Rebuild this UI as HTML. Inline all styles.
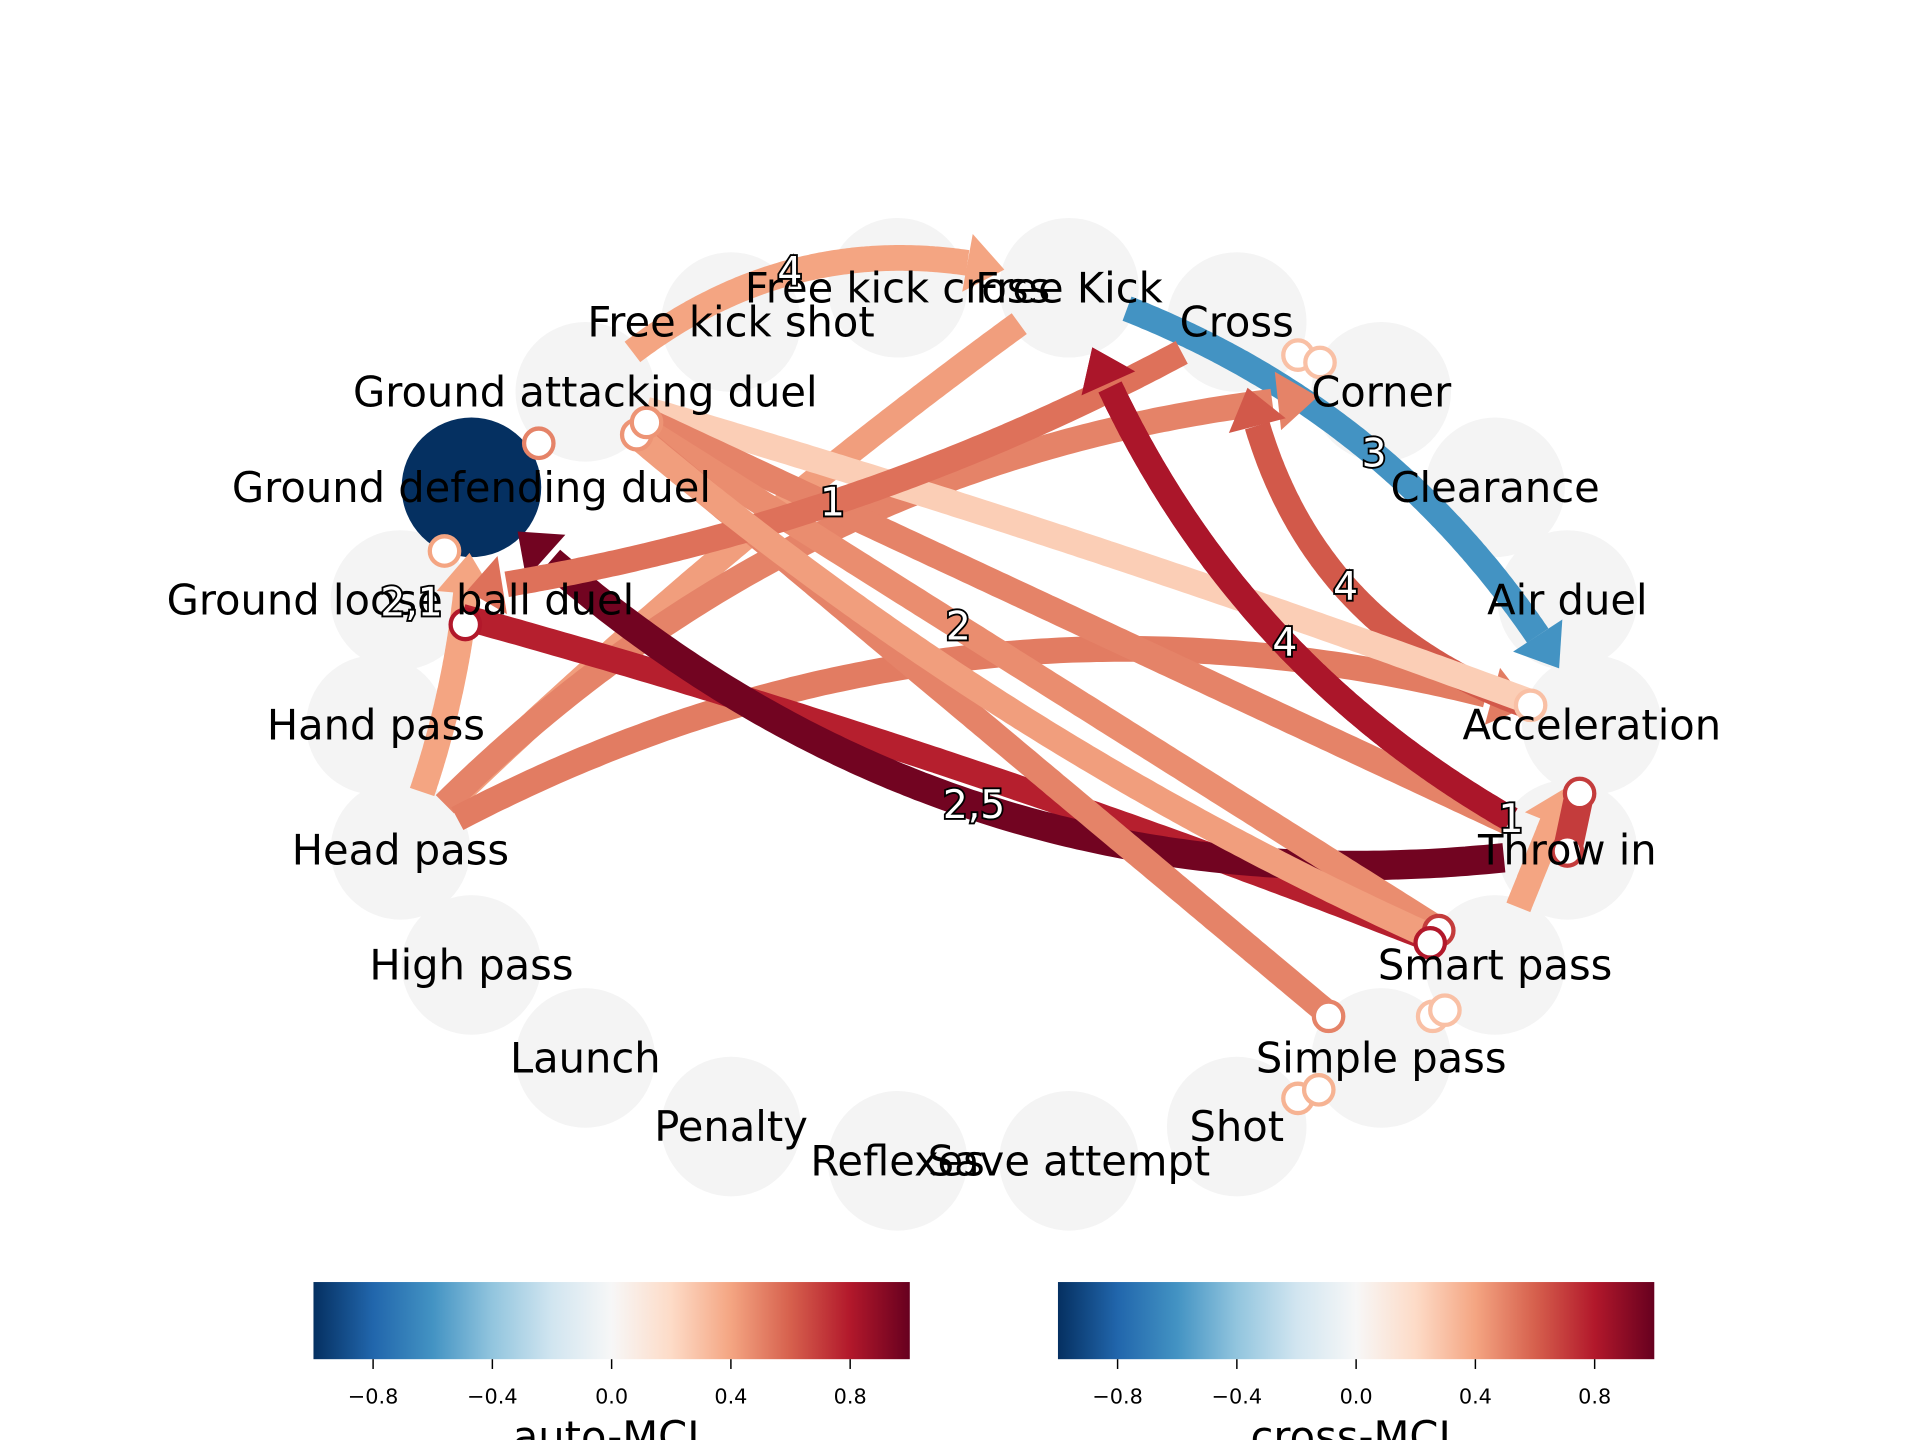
<!DOCTYPE html>
<html><head><meta charset="utf-8"><style>
html,body{margin:0;padding:0;background:#fff;width:1920px;height:1440px;overflow:hidden}
svg{display:block}
text{font-family:"DejaVu Sans","Liberation Sans",sans-serif}
</style></head><body>
<svg id="chart" width="1920" height="1440" viewBox="0 0 1568 1176" xmlns="http://www.w3.org/2000/svg">
<defs>
<linearGradient id="rdbu" x1="0" x2="1" y1="0" y2="0">
<stop offset="0" stop-color="#053061"/><stop offset="0.1" stop-color="#2166ac"/><stop offset="0.2" stop-color="#4393c3"/><stop offset="0.3" stop-color="#92c5de"/><stop offset="0.4" stop-color="#d1e5f0"/><stop offset="0.5" stop-color="#f7f7f7"/><stop offset="0.6" stop-color="#fddbc7"/><stop offset="0.7" stop-color="#f4a582"/><stop offset="0.8" stop-color="#d6604d"/><stop offset="0.9" stop-color="#b2182b"/><stop offset="1" stop-color="#67001f"/>
</linearGradient>
</defs>
<g id="nodes"></g>
<g id="edges"></g>
<g id="markers"></g>
<g id="labels"></g>
<g id="elabels"></g>
<g id="cbars"></g>
</svg>
<script>
const nodeNames = ["Free Kick","Cross","Corner","Clearance","Air duel","Acceleration","Throw in","Smart pass","Simple pass","Shot","Save attempt","Reflexes","Penalty","Launch","High pass","Head pass","Hand pass","Ground loose ball duel","Ground defending duel","Ground attacking duel","Free kick shot","Free kick cross"];
const nodeX = [873,1010,1128,1221,1280,1300,1280,1221,1128,1010,873,733,597,478,385,327,307,327,385,478,597,733];
const nodeY = [235,263,320,398,490,592,694,788,864,920,948,948,920,864,788,694,592,490,398,320,263,235];
const autoValues = [0,0,0,0,0,0,0,0,0,0,0,0,0,0,0,0,0,0,-1,0,0,0];

const edgeSource = ["Ground attacking duel","Free Kick","Free Kick","Head pass","Head pass","Head pass","Ground loose ball duel","Throw in","Throw in","Acceleration","Ground attacking duel","Ground attacking duel","Ground attacking duel","Ground attacking duel","Cross","Ground attacking duel","Smart pass","Throw in"];
const edgeTarget = ["Free Kick","Acceleration","Head pass","Corner","Acceleration","Ground defending duel","Smart pass","Ground defending duel","Free Kick","Cross","Acceleration","Throw in","Smart pass","Simple pass","Ground loose ball duel","Smart pass","Acceleration","Free Kick"];
const edgeValue = [0.4,-0.6,0.42,0.5,0.52,0.4,0.78,0.97,0.82,0.62,0.25,0.5,0.47,0.5,0.55,0.42,0.4,0.82];
const edgeRad = [0.3,0.2,-0.04,0.2,0.22,-0.1,0.03,0.25,0.2,0.35,0.02,0,0,0,0.1,-0.08,0,0.2];
const edgeHead = [1,1,0,1,1,1,0,1,1,1,0,0,0,0,1,0,1,1];
const edgeLabelText = ["4","3","","","","","2,1","2,5","4","4","","","2","","1","","","1"];
const edgeLabelPos = [0.45,0.5,0.5,0.5,0.5,0.5,-0.05,0.5,0.45,0.5,0.5,0.5,0.4,0.5,0.5,0.5,0.5,0.0];

const markerX = [1060,1078,1250,1290,1280,520,528,440,363,380,1175,1168,1085,1170,1180,1060,1077];
const markerY = [290,296,576,648,695,355,345,362,450,510,760,770,830,830,825,897,890];
const markerValue = [0.3,0.3,0.3,0.7,0.7,0.45,0.45,0.5,0.4,0.8,0.7,0.8,0.5,0.3,0.3,0.35,0.35];
const loopFrom = [3];
const loopTo = [4];

const stops=[[-1,[5,48,97]],[-0.8,[33,102,172]],[-0.6,[67,147,195]],[-0.4,[146,197,222]],[-0.2,[209,229,240]],[0,[247,247,247]],[0.2,[253,219,199]],[0.4,[244,165,130]],[0.6,[214,96,77]],[0.8,[178,24,43]],[1,[103,0,31]]];
function cmap(v){v=Math.max(-1,Math.min(1,v));for(let i=0;i<stops.length-1;i++){const a=stops[i],b=stops[i+1];if(v<=b[0]){const t=(v-a[0])/(b[0]-a[0]);const c=a[1].map((x,k)=>Math.round(x+(b[1][k]-x)*t));return `rgb(${c})`;}}return 'rgb(103,0,31)';}
const NS="http://www.w3.org/2000/svg";
function mk(tag,attrs,parent){const e=document.createElementNS(NS,tag);for(const k in attrs)e.setAttribute(k,attrs[k]);parent.appendChild(e);return e;}
const idx=n=>nodeNames.indexOf(n);

const gN=document.getElementById('nodes');
nodeNames.forEach((n,i)=>{
  const c=mk('circle',{cx:nodeX[i],cy:nodeY[i],r:57,fill:autoValues[i]===0?'#f4f4f4':cmap(autoValues[i])},gN);
  
  
});

const gE=document.getElementById('edges'), gL=document.getElementById('elabels');
edgeSource.forEach((s,i)=>{
  const a=idx(s),b=idx(edgeTarget[i]);
  const x0=nodeX[a],y0=nodeY[a],x1=nodeX[b],y1=nodeY[b];
  const dx=x1-x0,dy=y1-y0,r=edgeRad[i];
  const cx=(x0+x1)/2+r*dy, cy=(y0+y1)/2-r*dx;
  const pts=[];for(let k=0;k<=200;k++){const t=k/200,u=1-t;pts.push([u*u*x0+2*u*t*cx+t*t*x1,u*u*y0+2*u*t*cy+t*t*y1]);}
  const L=[0];for(let k=1;k<pts.length;k++)L.push(L[k-1]+Math.hypot(pts[k][0]-pts[k-1][0],pts[k][1]-pts[k-1][1]));
  const tot=L[L.length-1];
  const w=edgeValue[i]>0.9?24:21, head=edgeHead[i]?32:0, hw=24;
  const sTrim=50, eTrim=55;
  const seg=pts.filter((p,k)=>L[k]>=sTrim && L[k]<=tot-eTrim-head+2);
  const col=cmap(edgeValue[i]);
  const p=mk('path',{d:'M'+seg.map(p=>p[0].toFixed(1)+','+p[1].toFixed(1)).join('L'),fill:'none',stroke:col,'stroke-width':w},gE);
  
  
  if(edgeHead[i]){
    let kb=pts.findIndex((q,k)=>L[k]>=tot-eTrim-head), ke=pts.findIndex((q,k)=>L[k]>=tot-eTrim);
    const B=pts[kb],E=pts[ke];const len=Math.hypot(E[0]-B[0],E[1]-B[1]);const ux=(E[0]-B[0])/len,uy=(E[1]-B[1])/len;
    const h=mk('polygon',{points:`${B[0]-uy*hw},${B[1]+ux*hw} ${E[0]},${E[1]} ${B[0]+uy*hw},${B[1]-ux*hw}`,fill:col},gE);
    
    
  }
  if(edgeLabelText[i]){
    const segL=tot-sTrim-eTrim;
    const target=Math.max(0,sTrim+edgeLabelPos[i]*segL);
    const m=pts[Math.max(0,L.findIndex(v=>v>=target))];
    const t=mk('text',{x:m[0],y:m[1],'text-anchor':'middle','dominant-baseline':'central','font-size':32,fill:'#fff',stroke:'#000','stroke-width':3,'paint-order':'stroke'},gL);
    t.textContent=edgeLabelText[i];
    
    
  }
});

const gM=document.getElementById('markers');
loopFrom.forEach((f,j)=>{
  const l=mk('line',{x1:markerX[f],y1:markerY[f],x2:markerX[loopTo[j]],y2:markerY[loopTo[j]],stroke:cmap(markerValue[f]),'stroke-width':24},gM);
  
  
});
markerX.forEach((x,i)=>{
  const c=mk('circle',{cx:x,cy:markerY[i],r:12,fill:'#fff',stroke:cmap(markerValue[i]),'stroke-width':3.5},gM);
  
  
});

const gT=document.getElementById('labels');
nodeNames.forEach((n,i)=>{
  const t=mk('text',{x:nodeX[i],y:nodeY[i],'text-anchor':'middle','dominant-baseline':'central','font-size':34,fill:'#000'},gT);
  t.textContent=n;
  
  
});

const cbTicks=[-0.8,-0.4,0.0,0.4,0.8];
const cbTickLabels=["\u22120.8","\u22120.4","0.0","0.4","0.8"];
const cbTitles=["auto-MCL","cross-MCL"];
const cbLeft=[256,864];
const gC=document.getElementById('cbars');
cbTitles.forEach((title,j)=>{
  const x0=cbLeft[j],W=487;
  const r=mk('rect',{x:x0,y:1047,width:W,height:63,fill:'url(#rdbu)'},gC);
  
  
  cbTicks.forEach((v,k)=>{
    const x=x0+(v+1)/2*W;
    const l=mk('line',{x1:x,x2:x,y1:1110,y2:1118,stroke:'#000','stroke-width':1.2},gC);
    
    
    const t=mk('text',{x:x,y:1146,'text-anchor':'middle','font-size':17,fill:'#000'},gC);
    t.textContent=cbTickLabels[k];
    
    
  });
  const t=mk('text',{x:x0+W/2,y:1185,'text-anchor':'middle','font-size':34,fill:'#000'},gC);
  t.textContent=title;
  
  
});
</script>
</body></html>
